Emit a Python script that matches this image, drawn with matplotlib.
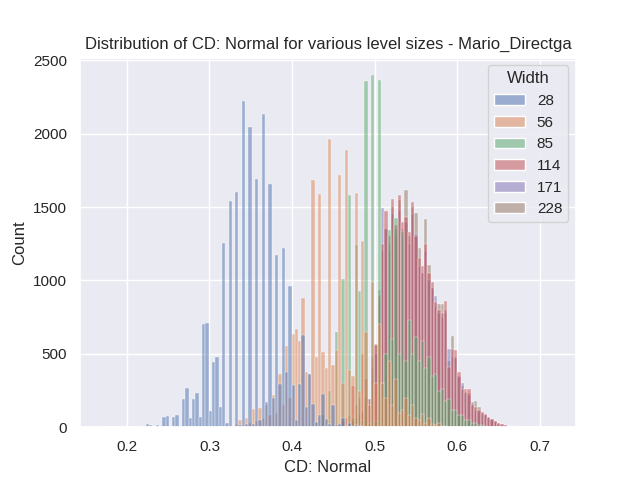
import numpy as np
import pandas as pd
import matplotlib
matplotlib.use("Agg")
from matplotlib import pyplot as plt
import seaborn as sns

# histogram bins shared by every level size
bin_start = 0.170545
bin_width = 0.00403
n_bins = 136

widths = ["28", "56", "85", "114", "171", "228"]

# counts per bin, each list begins at the bin index given in first_bin
first_bin = {"28": 12, "56": 40, "85": 62, "114": 70, "171": 72, "228": 74}

counts_28 = [10, 20, 15, 0, 15, 0, 70, 75, 0, 70, 85, 0, 195, 270, 60, 190, 233, 70,
             702, 713, 110, 443, 477, 140, 1258, 30, 1540, 10, 1599, 15, 2219, 20,
             2042, 25, 1689, 48, 2137, 172, 1660, 200, 1170, 293, 1224, 377, 965, 286,
             48, 293, 630, 139, 361, 157, 36, 82, 229, 59, 20, 150, 15, 25, 60, 10,
             30, 5, 15, 5, 10]
counts_56 = [20, 52, 15, 60, 30, 127, 40, 134, 60, 150, 80, 218, 100, 360, 150, 554,
             200, 638, 672, 586, 877, 375, 361, 1683, 479, 1591, 509, 400, 1960, 422,
             524, 1721, 300, 1887, 388, 350, 1598, 250, 1267, 650, 150, 990, 300, 700,
             298, 200, 450, 150, 330, 100, 120, 200, 80, 150, 60, 50, 90, 30, 60, 20,
             15, 30, 10, 8]
counts_85 = [10, 0, 30, 0, 80, 0, 250, 0, 649, 0, 1008, 0, 1584, 60, 1244, 926, 50,
             2357, 30, 2398, 40, 2364, 300, 500, 1342, 600, 1428, 500, 1335, 450, 729,
             500, 612, 450, 585, 400, 480, 350, 360, 250, 260, 180, 190, 120, 120, 80,
             80, 50, 50, 30, 30, 15, 15, 8]
counts_114 = [20, 30, 45, 60, 80, 280, 150, 200, 500, 330, 195, 480, 560, 900, 1250,
              1471, 1300, 1558, 1380, 1580, 1400, 1432, 1330, 1535, 1300, 1150, 1097,
              1250, 1050, 990, 850, 800, 780, 858, 411, 530, 529, 377, 260, 263, 263,
              150, 138, 120, 104, 93, 70, 59, 45, 30, 25, 15, 10, 8, 5]
counts_171 = [10, 0, 30, 40, 60, 90, 100, 200, 150, 400, 500, 933, 1494, 1350, 1250,
              1450, 1350, 1480, 1300, 1400, 1250, 1450, 1319, 1100, 1050, 1200, 1000,
              950, 892, 780, 750, 800, 536, 480, 470, 340, 302, 230, 220, 172, 120,
              110, 90, 80, 60, 50, 35, 25, 18, 12, 8, 5]
counts_228 = [20, 40, 60, 80, 110, 150, 195, 350, 570, 850, 1200, 1350, 1200, 1500,
              1300, 1550, 1350, 1614, 1300, 1500, 1456, 1219, 1050, 1415, 1103, 950,
              820, 842, 841, 780, 450, 620, 480, 350, 280, 240, 230, 160, 177, 138, 95,
              85, 65, 55, 40, 28, 20, 12, 8, 5]

series = {"28": counts_28, "56": counts_56, "85": counts_85,
          "114": counts_114, "171": counts_171, "228": counts_228}

edges = bin_start + bin_width * np.arange(n_bins + 1)
centers = (edges[:-1] + edges[1:]) / 2

rows = []
for w in widths:
    for i, c in enumerate(series[w]):
        rows.append({"CD: Normal": centers[first_bin[w] + i], "count": c, "Width": w})
df = pd.DataFrame(rows)

sns.set_theme()
plt.rcParams["font.family"] = ["Liberation Sans", "DejaVu Sans"]
fig, ax = plt.subplots(figsize=(6.4, 4.8), dpi=100)
sns.histplot(data=df, x="CD: Normal", weights="count", hue="Width",
             hue_order=widths, binwidth=bin_width,
             binrange=(edges[0], edges[-1] - bin_width / 2), ax=ax)
ax.set_title("Distribution of CD: Normal for various level sizes - Mario_Directga")
fig.savefig("out.png")
